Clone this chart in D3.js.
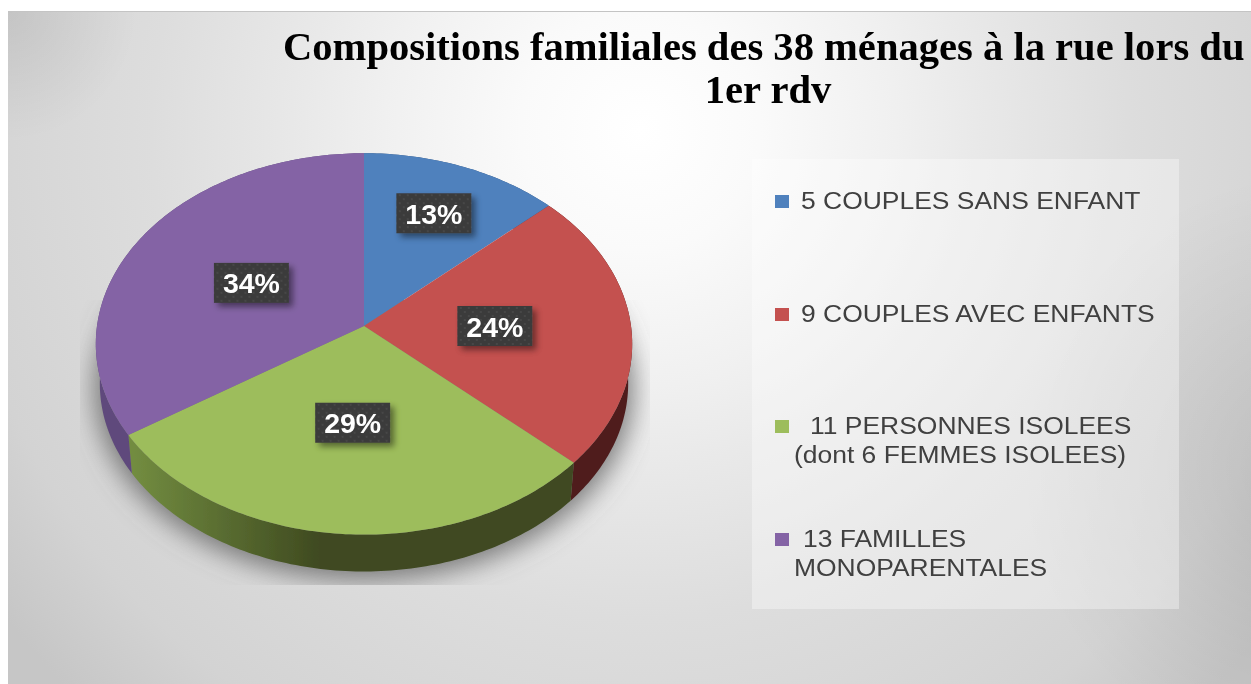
<!DOCTYPE html>
<html>
<head>
<meta charset="utf-8">
<script src="https://cdn.jsdelivr.net/npm/d3@7"></script>
<style>
  html, body { margin: 0; padding: 0; background: #fff; overflow: hidden; }
  svg { display: block; }
</style>
</head>
<body>
<div id="chart"></div>
<script>
// données
const categories = ['5 COUPLES SANS ENFANT', '9 COUPLES AVEC ENFANTS', '11 PERSONNES ISOLEES (dont 6 FEMMES ISOLEES)', '13 FAMILLES MONOPARENTALES']
const values = [5, 9, 11, 13]
const colors = ['#4f81bd', '#c4514f', '#9dbd5b', '#8464a5']
const titleLines = ['Compositions familiales des 38 ménages à la rue lors du', '1er rdv']
const legendLines = [['5 COUPLES SANS ENFANT'], ['9 COUPLES AVEC ENFANTS'], ['11 PERSONNES ISOLEES', '(dont 6 FEMMES ISOLEES)'], ['13 FAMILLES', 'MONOPARENTALES']]

const width = 1251
const height = 684

// géométrie du camembert en perspective
const cx = 364, cy = 326, R = 267, tilt = 189, persp = 0.094
const depth = 40, bottomScale = 0.985
const labelRadius = [0.69, 0.49, 0.49, 0.49]

const svg = d3.select('#chart').append('svg').attr('width', width).attr('height', height)
const defs = svg.append('defs')

// fond du graphique
function addStops(grad, stops) {
  grad.selectAll('stop').data(stops).join('stop')
    .attr('offset', d => d[0]).attr('stop-color', d => d[1]).attr('stop-opacity', d => d[2] === undefined ? 1 : d[2])
}
addStops(defs.append('radialGradient').attr('id', 'bg').attr('gradientUnits', 'userSpaceOnUse')
  .attr('cx', 640).attr('cy', 130).attr('r', 800),
  [[0, '#ffffff'], [0.15, '#fafafa'], [0.32, '#f0f0f0'], [0.42, '#e9e9e9'], [0.61, '#dddddd'], [0.76, '#d7d7d7'], [0.86, '#d3d3d3'], [1, '#c6c6c6']])
addStops(defs.append('radialGradient').attr('id', 'cornerTL').attr('gradientUnits', 'userSpaceOnUse')
  .attr('cx', 8).attr('cy', 11).attr('r', 130),
  [[0, '#000', 0.08], [1, '#000', 0]])
addStops(defs.append('radialGradient').attr('id', 'sideR').attr('gradientUnits', 'userSpaceOnUse')
  .attr('cx', 1320).attr('cy', 470).attr('r', 300),
  [[0, '#000', 0.1], [1, '#000', 0]])

addStops(defs.append('linearGradient').attr('id', 'wall2').attr('gradientUnits', 'userSpaceOnUse')
  .attr('x1', 134).attr('x2', 320).attr('y1', 0).attr('y2', 0),
  [[0, '#728c40'], [0.5, '#586b30'], [1, '#3f4a20']])

const blur = defs.append('filter').attr('id', 'floorBlur').attr('x', '-20%').attr('y', '-20%').attr('width', '140%').attr('height', '140%')
blur.append('feGaussianBlur').attr('stdDeviation', 13)

const soft = defs.append('filter').attr('id', 'soft').attr('x', 0).attr('y', 0).attr('width', 1).attr('height', 1)
  .attr('filterUnits', 'objectBoundingBox')
soft.append('feGaussianBlur').attr('stdDeviation', 0.55)

const boxShadow = defs.append('filter').attr('id', 'boxShadow').attr('x', '-20%').attr('y', '-20%').attr('width', '140%').attr('height', '150%')
boxShadow.append('feDropShadow').attr('dx', 4).attr('dy', 4).attr('stdDeviation', 3).attr('flood-color', '#000').attr('flood-opacity', 0.45)

const dots = defs.append('pattern').attr('id', 'dots').attr('patternUnits', 'userSpaceOnUse').attr('width', 8).attr('height', 8)
dots.append('rect').attr('width', 8).attr('height', 8).attr('fill', '#3b3b3b')
dots.append('circle').attr('cx', 2).attr('cy', 2).attr('r', 0.9).attr('fill', '#4c4c4c')
dots.append('circle').attr('cx', 6).attr('cy', 6).attr('r', 0.9).attr('fill', '#4c4c4c')

defs.append('clipPath').attr('id', 'floorClip').append('rect')
  .attr('x', 80).attr('y', 300).attr('width', 570).attr('height', 285)

const root = svg.append('g').attr('filter', 'url(#soft)')
root.append('rect').attr('width', width).attr('height', height).attr('fill', '#fff')
const panel = root.append('g')
;['url(#bg)', 'url(#cornerTL)', 'url(#sideR)'].forEach(f => {
  panel.append('rect').attr('x', 8).attr('y', 11).attr('width', width - 8).attr('height', height - 11).attr('fill', f)
})
panel.append('rect').attr('x', 8).attr('y', 11).attr('width', width - 8).attr('height', 1).attr('fill', '#c4c4c4')

// projection disque -> écran
const xProj = d3.scaleLinear().domain([-1, 1]).range([-R, R])
const yProj = d3.scaleLinear().domain([-1, 1]).range([-tilt, tilt])
function project(a, r, lower) {
  const u = r * Math.sin(a), v = -r * Math.cos(a)
  const s = 1 / (1 - persp * v)
  const k = lower ? bottomScale : 1
  return [cx + k * xProj(u) * s, cy + k * yProj(v) * s + (lower ? depth : 0)]
}

const line = d3.line()
const pie = d3.pie().sort(null)
const slices = pie(values)
const total = d3.sum(values)
const pct = d3.format('.0%')
const step = Math.PI / 180
const arcAngles = d => d3.range(d.startAngle, d.endAngle, step).concat([d.endAngle])

// ombre au sol
const floor = root.append('g').attr('clip-path', 'url(#floorClip)')
floor.append('path')
  .attr('d', line(d3.range(0, 2 * Math.PI, step).map(a => {
    const p = project(a, 1.02, true)
    return [p[0], p[1] + 4]
  })) + 'Z')
  .attr('fill', '#606060').attr('fill-opacity', 0.8).attr('filter', 'url(#floorBlur)')

// parois
const wallFill = ['#34527a', '#4f1d1d', 'url(#wall2)', '#5f4a7c']
root.append('g').selectAll('path').data(slices).join('path')
  .attr('d', d => {
    const angles = arcAngles(d)
    return line(angles.map(a => project(a, 1, false)).concat(angles.slice().reverse().map(a => project(a, 1, true)))) + 'Z'
  })
  .attr('fill', (d, i) => wallFill[i])

// face supérieure
root.append('g').selectAll('path').data(slices).join('path')
  .attr('d', d => line([[cx, cy]].concat(arcAngles(d).map(a => project(a, 1, false)))) + 'Z')
  .attr('fill', (d, i) => colors[i])

// étiquettes
const label = root.append('g').selectAll('g').data(slices).join('g')
  .attr('transform', (d, i) => `translate(${project((d.startAngle + d.endAngle) / 2, labelRadius[i], false)})`)
label.append('rect').attr('x', -37.5).attr('y', -20).attr('width', 75).attr('height', 40)
  .attr('fill', 'url(#dots)').attr('filter', 'url(#boxShadow)')
label.append('text').attr('text-anchor', 'middle').attr('y', 10.5)
  .attr('font-family', '"Liberation Sans", Arial, sans-serif').attr('font-weight', 700).attr('font-size', 28.5)
  .attr('fill', '#fff').text(d => pct(d.value / total))

// titre
root.append('g').selectAll('text').data(titleLines).join('text')
  .attr('x', (d, i) => i === 0 ? 283 : 768)
  .attr('y', (d, i) => i === 0 ? 60 : 103)
  .attr('text-anchor', (d, i) => i === 0 ? 'start' : 'middle')
  .attr('font-family', '"Liberation Serif", "Times New Roman", serif').attr('font-weight', 700).attr('font-size', 40.6)
  .attr('fill', '#000').text(d => d)

// légende
root.append('rect').attr('x', 752).attr('y', 159).attr('width', 427).attr('height', 450)
  .attr('fill', '#fff').attr('fill-opacity', 0.35)
const legendTop = [195, 308, 420, 533]
const lineX = [[801], [801], [810, 794], [803, 794]]
const legend = root.append('g').selectAll('g').data(categories).join('g')
legend.append('rect').attr('x', 775).attr('y', (d, i) => legendTop[i]).attr('width', 14).attr('height', 13)
  .attr('fill', (d, i) => colors[i])
legend.each(function (d, i) {
  d3.select(this).selectAll('text').data(legendLines[i]).join('text')
    .attr('transform', (t, j) => `translate(${lineX[i][j]},${legendTop[i] + 14 + j * 28.5}) scale(1.08,1)`)
    .attr('font-family', '"Liberation Sans", Arial, sans-serif').attr('font-size', 24.5)
    .attr('fill', '#404040').text(t => t)
})
</script>
</body>
</html>
